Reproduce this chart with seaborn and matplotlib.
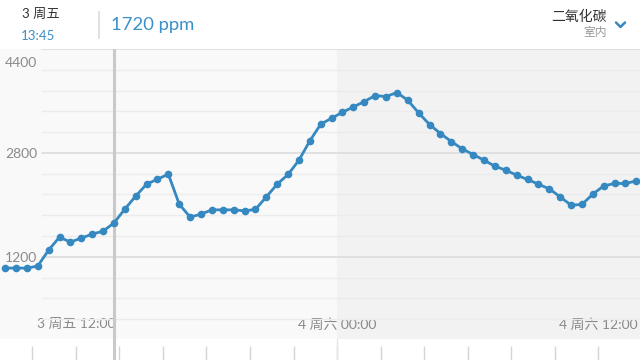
import numpy as np
import pandas as pd
import seaborn as sns
import matplotlib.pyplot as plt
import matplotlib.dates as mdates
from matplotlib.lines import Line2D
from matplotlib.transforms import ScaledTranslation

# CO2 readings, one every 30 min starting Fri 3rd 08:45
start = "2017-03-03 08:45"
co2 = [1026, 1026, 1026, 1057, 1303, 1503, 1426, 1488, 1549, 1595,
       1720, 1934, 2134, 2318, 2395, 2472, 2011, 1811, 1857, 1923,
       1923, 1923, 1908, 1929, 2123, 2318, 2468, 2688, 2985, 3242,
       3334, 3426, 3508, 3591, 3683, 3668, 3729, 3611, 3415, 3237,
       3098, 2975, 2862, 2775, 2688, 2595, 2534, 2457, 2391, 2318,
       2246, 2123, 1995, 2006, 2165, 2292, 2329, 2329, 2369]
times = pd.date_range(start, periods=len(co2), freq="30min")

cursor_time = pd.Timestamp("2017-03-03 13:45")
cursor_value = 1720
midnight = pd.Timestamp("2017-03-04 00:00")
x_label_times = [pd.Timestamp("2017-03-03 12:00"), midnight, pd.Timestamp("2017-03-04 12:00")]
weekdays = ["周一", "周二", "周三", "周四", "周五", "周六", "周日"]
y_major = [1200, 2800, 4400]
y_minor = list(range(240, 4401, 320))

blue = "#3588c0"
sns.set_style("white")
plt.rcParams["font.family"] = ["Lato", "Noto Sans CJK SC", "DejaVu Sans"]

W, H = 640, 360
fig = plt.figure(figsize=(6.4, 3.6), dpi=100)
fig.patch.set_facecolor("white")

# main plot area, px 49..339 from top
ax = fig.add_axes([0, 21 / H, 1, 290 / H])
ax.set_facecolor("#f9f9f9")
xmin = pd.Timestamp("2017-03-03 08:31")
xmax = pd.Timestamp("2017-03-04 13:55")
ax.axvspan(midnight, xmax, color="#f2f2f2", lw=0, zorder=0)

for v in y_minor:
    if v in y_major:
        ax.axhline(v, xmin=42 / W, color="#dcdcdc", lw=1.2, zorder=1)
    else:
        ax.axhline(v, xmin=42 / W, color="#ececec", lw=1, zorder=1)

ax.axvline(cursor_time, color="#c9c9c9", lw=2.2, zorder=2)

sns.lineplot(x=times, y=co2, ax=ax, color=blue, lw=2, marker="o",
             markersize=5.5, markeredgewidth=0, zorder=3)

ax.set_xlim(xmin, xmax)
ax.set_ylim(-66, 4400)
ax.set_xlabel("")
ax.set_ylabel("")
for s in ax.spines.values():
    s.set_visible(False)

ax.set_yticks(y_major)
ax.set_yticklabels([str(v) for v in y_major])
ax.tick_params(axis="y", length=0, pad=-26.6, labelsize=10, labelcolor="#8a8a8a")
ylabs = ax.get_yticklabels()
ylabs[-1].set_transform(ylabs[-1].get_transform() + ScaledTranslation(0, -0.13, fig.dpi_scale_trans))

ax.set_xticks(x_label_times)
ax.set_xticklabels([f"{t.day} {weekdays[t.dayofweek]} {t:%H:%M}" for t in x_label_times])
ax.tick_params(axis="x", length=0, pad=-15, labelsize=10, labelcolor="#8a8a8a")

# bottom strip with the 2-hour tick marks
ax2 = fig.add_axes([0, 0, 1, 21 / H])
ax2.set_facecolor("white")
ax2.set_xlim(xmin, xmax)
ax2.set_ylim(0, 1)
for s in ax2.spines.values():
    s.set_visible(False)
ax2.xaxis.set_major_locator(mdates.HourLocator(byhour=range(0, 24, 2)))
ax2.tick_params(axis="x", bottom=True, direction="in", length=10, width=1, color="#d4d4d4",
                labelbottom=False)
ax2.set_yticks([])
ax2.axvline(midnight, color="#e6e6e6", lw=1)
ax2.axvline(cursor_time, color="#c9c9c9", lw=2.2)

# header
fig.text(22 / W, 1 - 14 / H, f"{cursor_time.day} {weekdays[cursor_time.dayofweek]}",
         fontsize=9.5, color="#333333", va="center", ha="left")
fig.text(21 / W, 1 - 36 / H, f"{cursor_time:%H:%M}", fontsize=9.5, color="#3d8fc6",
         va="center", ha="left")
fig.add_artist(Line2D([99 / W, 99 / W], [1 - 12 / H, 1 - 38 / H], transform=fig.transFigure,
                      color="#e2e2e2", lw=1.5))
fig.text(111 / W, 1 - 25 / H, f"{cursor_value} ppm", fontsize=13.3, color="#3a90c8",
         va="center", ha="left")
fig.text(607 / W, 1 - 16 / H, "二氧化碳", fontsize=10, color="#333333", va="center", ha="right")
fig.text(607 / W, 1 - 32 / H, "室内", fontsize=8.5, color="#9a9a9a", va="center", ha="right")
fig.add_artist(Line2D([616 / W, 620.5 / W, 625 / W], [1 - 22.5 / H, 1 - 27 / H, 1 - 22.5 / H],
                      transform=fig.transFigure, color=blue, lw=1.8))

fig.savefig("out.png", dpi=100)
